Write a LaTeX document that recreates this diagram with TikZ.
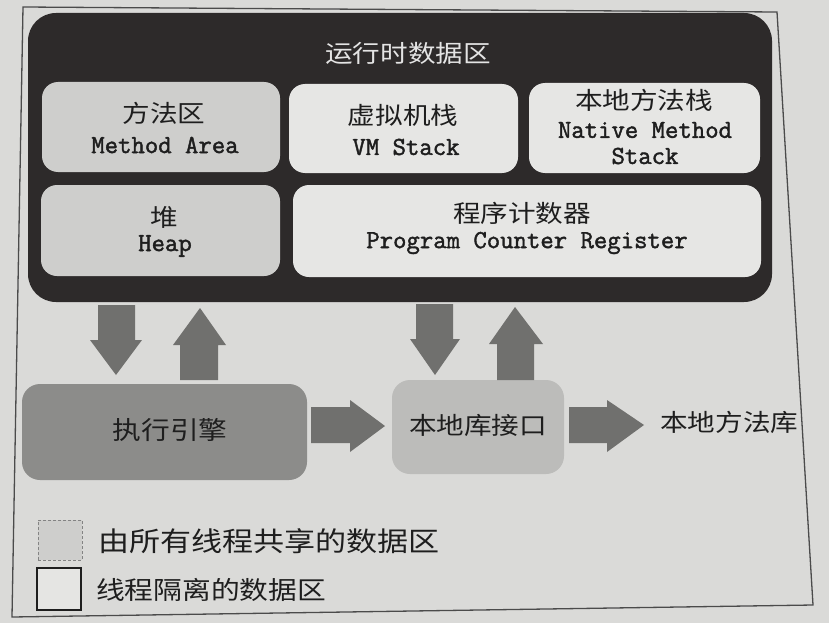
\documentclass[tikz,border=0pt]{standalone}
\usepackage{fontspec}
\newfontfamily\cjk[FakeStretch=1.15]{Noto Sans CJK SC}
\newfontfamily\monof[AutoFakeBold=1.6]{Latin Modern Mono}
\definecolor{paper}{RGB}{218,218,216}
\definecolor{darkbg}{RGB}{45,42,42}
\definecolor{sharedfill}{RGB}{206,206,204}
\definecolor{privfill}{RGB}{230,230,228}
\definecolor{execfill}{RGB}{140,140,138}
\definecolor{arrowfill}{RGB}{112,112,110}
\definecolor{nifill}{RGB}{188,188,186}
\definecolor{inkc}{RGB}{30,30,30}
\definecolor{titlec}{RGB}{228,228,228}
\tikzset{
  area/.style={draw=none, rounded corners=16pt, inner sep=0pt},
  sharedbox/.style={area, fill=sharedfill},
  privbox/.style={area, fill=privfill},
  cn/.style={font=\cjk\fontsize{24}{28}\selectfont, text=inkc, inner sep=0pt},
  en/.style={font=\monof\bfseries\fontsize{26}{30}\selectfont, text=inkc, inner sep=0pt},
  blockarrow/.style={fill=arrowfill, draw=none},
}
\begin{document}
\begin{tikzpicture}[x=1pt,y=-1pt]
\useasboundingbox (0,0) rectangle (829,623);
\fill[paper] (0,0) rectangle (829,623);
\draw[line width=1.3pt, color=inkc!80] (23,7) -- (777,12) -- (813,605) -- (12,617) -- cycle;

% runtime data area
\node[area, fill=darkbg, rounded corners=28pt, minimum width=744pt, minimum height=289pt] (rt) at (400,157.5) {};
\node[cn, text=titlec] (rtt) at (408,53) {运行时数据区};

\node[sharedbox, minimum width=238pt, minimum height=90pt] (ma) at (161,127) {};
\node[cn] (mat1) at (164,113) {方法区};
\node[en] (mat2) at (165,145) {Method Area};

\node[privbox, minimum width=229pt, minimum height=89pt] (vm) at (403.5,128.5) {};
\node[cn] (vmt1) at (403,115) {虚拟机栈};
\node[en] (vmt2) at (406,147) {VM Stack};

\node[privbox, minimum width=231pt, minimum height=90pt] (nms) at (644.5,128) {};
\node[cn] (nmst1) at (644,100) {本地方法栈};
\node[en] (nmst2) at (645,130) {Native Method};
\node[en] (nmst3) at (645,156) {Stack};

\node[sharedbox, minimum width=239pt, minimum height=91pt] (hp) at (160.5,230.5) {};
\node[cn] (hpt1) at (164,217) {堆};
\node[en] (hpt2) at (165,246) {Heap};

\node[privbox, minimum width=468pt, minimum height=92pt] (pc) at (527,231) {};
\node[cn] (pct1) at (522,213) {程序计数器};
\node[en] (pct2) at (527,243) {Program Counter Register};

% execution engine and native interface
\node[area, fill=execfill, rounded corners=18pt, minimum width=285pt, minimum height=96pt] (ee) at (164.5,432) {};
\node[cn, font=\cjk\fontsize{25}{28}\selectfont] (eet) at (170,430) {执行引擎};

\node[area, fill=nifill, rounded corners=18pt, minimum width=172pt, minimum height=94pt] (ni) at (478,427) {};
\node[cn] (nit) at (478,425) {本地库接口};

\node[cn, anchor=west] (nl) at (660,422) {本地方法库};

% block arrows
\fill[blockarrow] (98,305)--(135,305)--(135,340)--(142,340)--(116,375)--(90,340)--(98,340)--cycle;
\fill[blockarrow] (180,380)--(218,380)--(218,345)--(226,345)--(200,308)--(173,345)--(180,345)--cycle;
\fill[blockarrow] (416,304)--(453,304)--(453,339)--(460,339)--(435,375)--(410,339)--(416,339)--cycle;
\fill[blockarrow] (497,380)--(534,380)--(534,344)--(543,344)--(515,307)--(489,344)--(497,344)--cycle;
\fill[blockarrow] (311,407)--(350,407)--(350,400)--(385,426)--(350,452)--(350,443)--(311,443)--cycle;
\fill[blockarrow] (569,407)--(607,407)--(607,400)--(644,425)--(607,452)--(607,443)--(569,443)--cycle;

% legend
\node[draw=inkc!55, densely dashed, line width=1pt, fill=sharedfill, minimum width=44pt, minimum height=40pt, inner sep=0pt] (lg1) at (60,540) {};
\node[cn, anchor=west, font=\cjk\fontsize{27}{30}\selectfont] (lg1t) at (98,541) {由所有线程共享的数据区};
\node[draw=inkc, line width=1.5pt, fill=privfill!90!paper, minimum width=44pt, minimum height=42pt, inner sep=0pt] (lg2) at (59,589) {};
\node[cn, anchor=west, font=\cjk\fontsize{25}{30}\selectfont] (lg2t) at (96,590) {线程隔离的数据区};
\end{tikzpicture}
\end{document}
